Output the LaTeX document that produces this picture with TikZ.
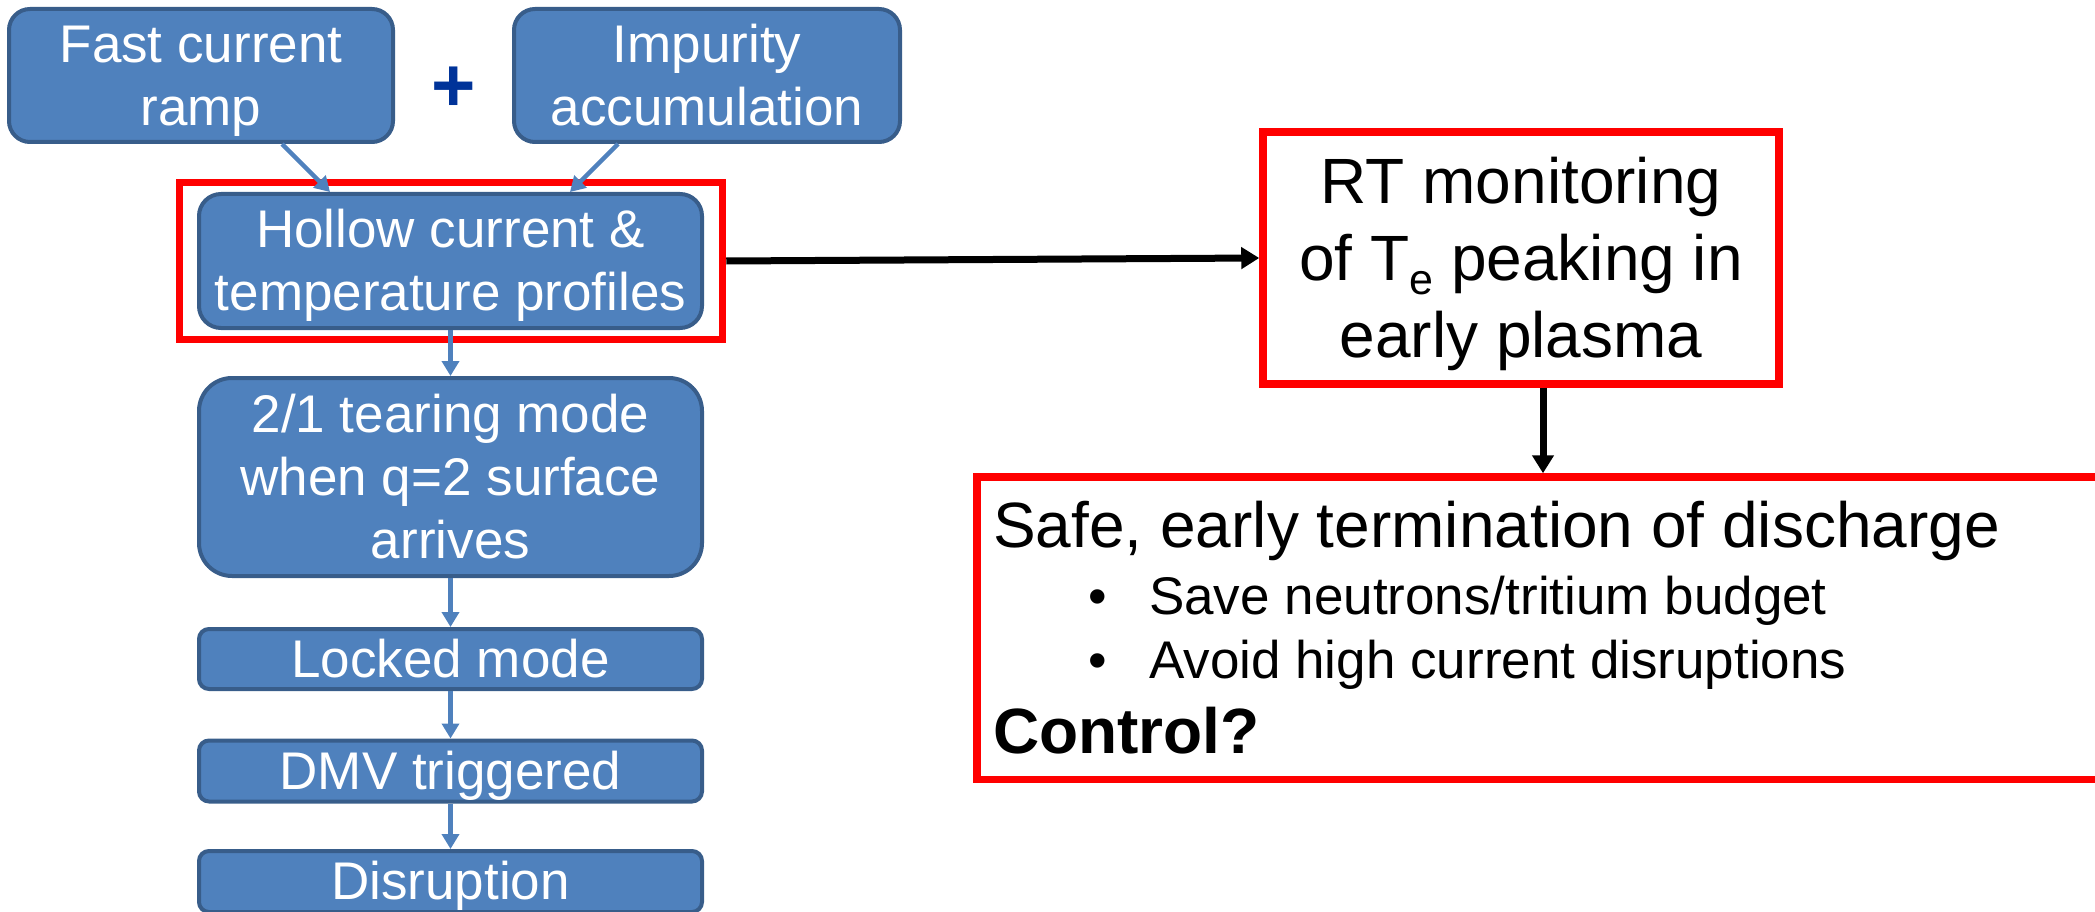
\documentclass[tikz,border=0pt]{standalone}
\usepackage{fontspec}
\setmainfont{Liberation Sans}
\usetikzlibrary{arrows.meta}
\definecolor{boxblue}{HTML}{4F81BD}
\definecolor{boxedge}{HTML}{385D8A}
\definecolor{plusblue}{HTML}{003399}
\newcommand\mystrut{\rule[-0.212em]{0pt}{1.117em}}
\begin{document}
\begin{tikzpicture}[x=1pt,y=-1pt,
  bluebox/.style={draw=boxedge, fill=boxblue, line width=4pt, text=white, inner sep=0pt,
    align=center, font=\fontsize{53}{63}\selectfont, minimum width=503pt},
  redframe/.style={draw=red, line width=7.5pt, inner sep=0pt},
  bluearrow/.style={draw=boxblue, line width=4.5pt, -{Triangle[length=15pt,width=17pt]}},
  blackarrow/.style={draw=black, line width=7pt, -{Triangle[length=18pt,width=21pt]}},
  safetext/.style={anchor=base west, inner sep=0pt, font=\fontsize{64}{77}\selectfont},
  bullettext/.style={anchor=base west, inner sep=0pt, font=\fontsize{53}{63}\selectfont}
]
\useasboundingbox (0,0) rectangle (2095,912);
\clip (0,0) rectangle (2095,912);

% left column
\node[bluebox, minimum width=384pt, minimum height=133pt, rounded corners=21pt] (fast) at (201,75.5)
  {\mystrut Fast current\\\mystrut ramp};
\node[bluebox, minimum width=386pt, minimum height=133pt, rounded corners=21pt] (imp) at (707,75.5)
  {\mystrut Impurity\\\mystrut accumulation};
\node[font=\bfseries\fontsize{76}{76}\selectfont, text=plusblue, inner sep=0pt] (plus) at (454,89) {+};

\node[bluebox, minimum height=134pt, rounded corners=22pt] (hollow) at (450.5,261)
  {\mystrut Hollow current \&\\\mystrut temperature profiles};
\node[redframe, minimum width=543pt, minimum height=157pt] (frame) at (451,261) {};

\node[bluebox, minimum height=198pt, rounded corners=33pt] (tear) at (450.5,477)
  {\mystrut 2/1 tearing mode\\\mystrut when q=2 surface\\\mystrut arrives};
\node[bluebox, minimum height=60pt, rounded corners=10pt] (locked) at (450.5,659) {\mystrut Locked mode};
\node[bluebox, minimum height=61pt, rounded corners=10pt] (dmv) at (450.5,771) {\mystrut DMV triggered};
\node[bluebox, minimum height=61pt, rounded corners=10pt] (disr) at (450.5,881.5) {\mystrut Disruption};

% right side
\node[redframe, minimum width=516pt, minimum height=252pt, align=center,
  font=\fontsize{64}{77}\selectfont] (rt) at (1521,258)
  {\mystrut RT monitoring\\\mystrut of T\raisebox{-14pt}{\fontsize{43}{43}\selectfont e} peaking in\\\mystrut early plasma};

\node[redframe, minimum width=1143pt, minimum height=302.5pt] (safe) at (1548.5,628.25) {};
\node[safetext] (s1) at (993,547) {Safe, early termination of discharge};
\node[bullettext] (s2) at (1088,614) {\makebox[61pt][l]{\textbullet}Save neutrons/tritium budget};
\node[bullettext] (s3) at (1088,678) {\makebox[61pt][l]{\textbullet}Avoid high current disruptions};
\node[safetext, font=\bfseries\fontsize{64}{77}\selectfont] (s4) at (993,753) {Control?};

% connectors
\draw[bluearrow] ([xshift=81pt]fast.south) -- ([xshift=-120.5pt]hollow.north);
\draw[bluearrow] ([xshift=-89pt]imp.south) -- ([xshift=119.5pt]hollow.north);
\draw[bluearrow] (hollow.south) -- (tear.north);
\draw[bluearrow] (tear.south) -- (locked.north);
\draw[bluearrow] (locked.south) -- (dmv.north);
\draw[bluearrow] (dmv.south) -- (disr.north);

\draw[blackarrow] (frame.east) -- (rt.west);
\coordinate (a2) at (1543,0);
\draw[blackarrow] (rt.south -| a2) -- (safe.north -| a2);
\end{tikzpicture}
\end{document}
